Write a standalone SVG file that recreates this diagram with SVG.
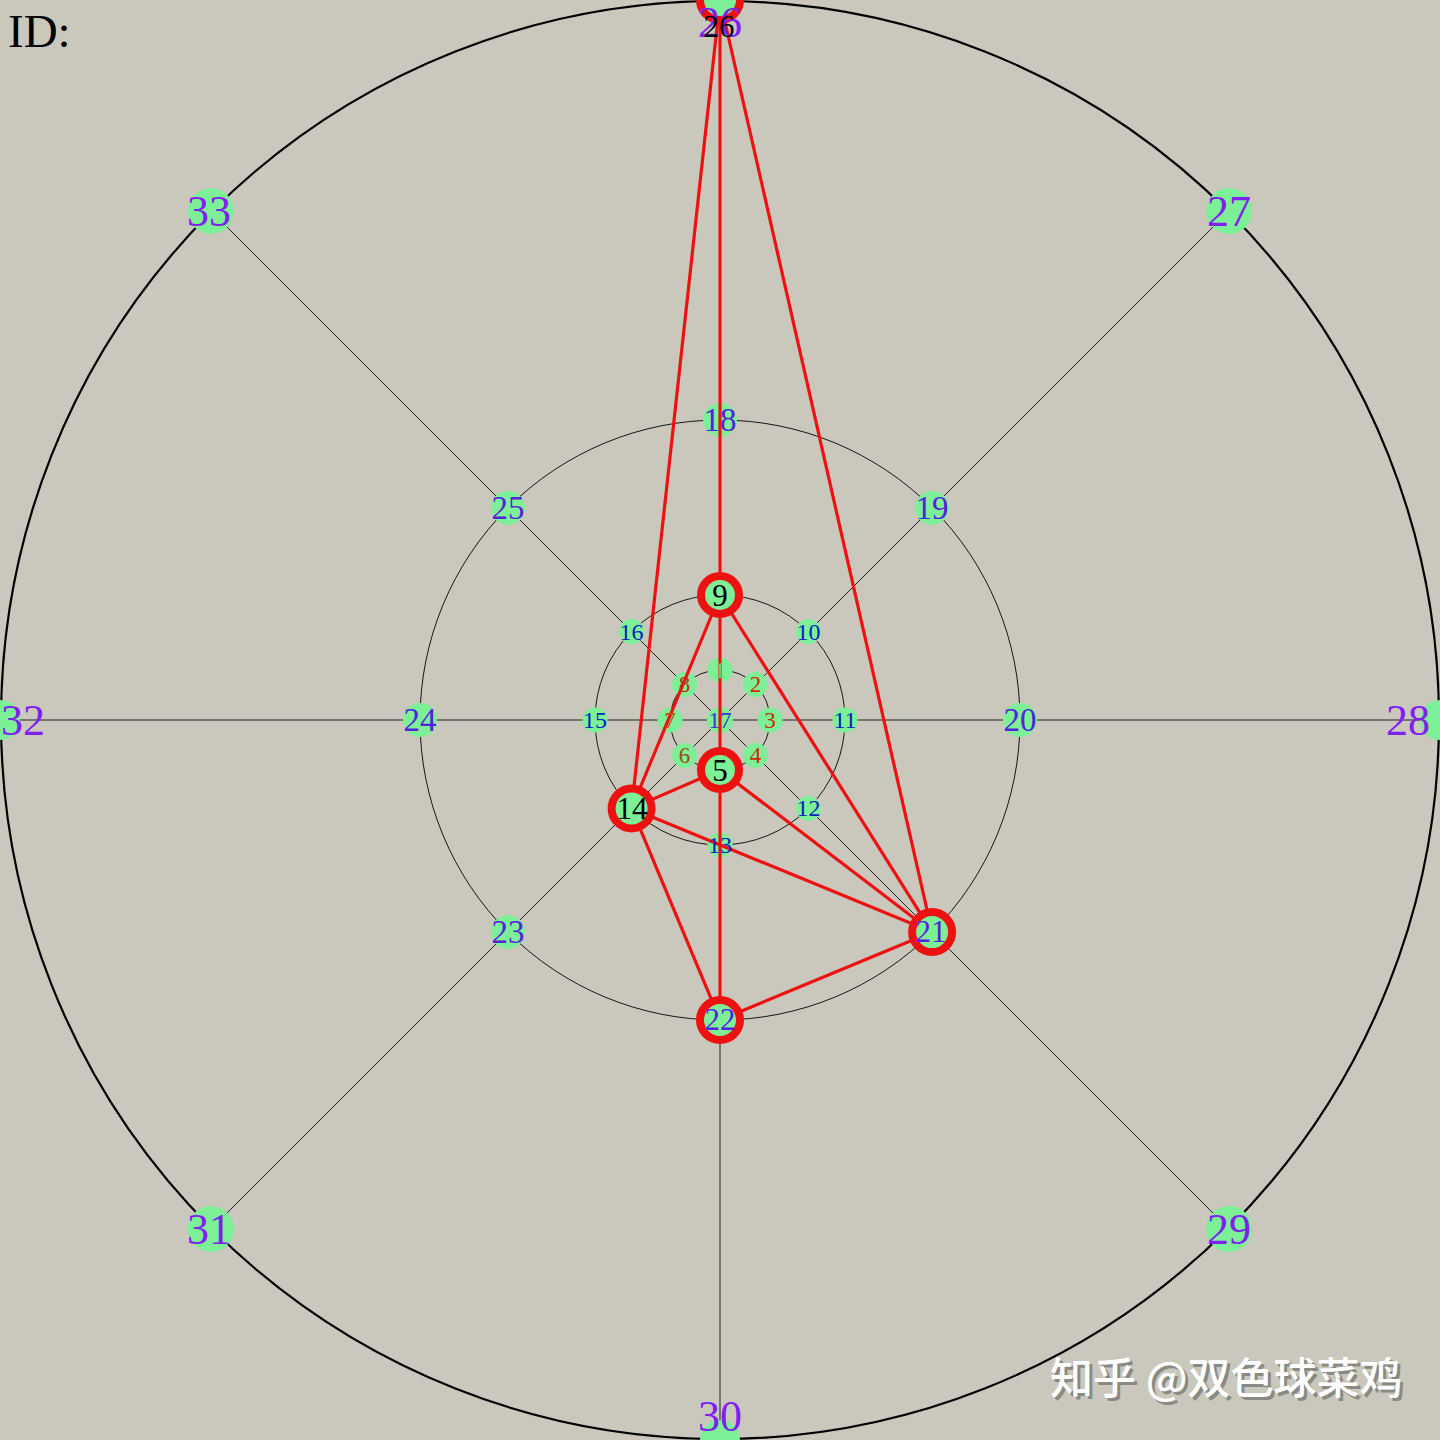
<svg xmlns="http://www.w3.org/2000/svg" width="1440" height="1440" viewBox="0 0 1440 1440">
<style>
.ring{fill:none;stroke:#000;stroke-width:0.9}
.outer{fill:none;stroke:#000;stroke-width:2.2}
.spoke{stroke:#111;stroke-width:0.9}
.edge{stroke:#ee1111;stroke-width:3.2;fill:none}
.n{fill:#7def96}
.sel{fill:#7def96;stroke:#ee1111;stroke-width:8}
text{font-family:"Liberation Serif","Times New Roman",serif;text-anchor:middle}
.l0{font-size:44px;fill:#8020f0}
.l1{font-size:33px;fill:#5522dd}
.l2{font-size:24px;fill:#0a22c0}
.l3{font-size:23px}
.ls{font-size:31px}
.wm{font-family:"Noto Sans CJK SC","Noto Sans",sans-serif;font-size:43px;font-weight:500;text-anchor:start}
</style>
<rect width="1440" height="1440" fill="#cac8bd"/>
<g id="rings">
<circle class="outer" cx="720" cy="720" r="719"/>
<circle class="ring" cx="720" cy="720" r="300"/>
<circle class="ring" cx="720" cy="720" r="125"/>
<circle class="ring" cx="720" cy="720" r="50"/>
</g>
<g id="spokes">
<line class="spoke" x1="720" y1="0" x2="720" y2="1440"/>
<line class="spoke" x1="0" y1="720" x2="1440" y2="720"/>
<line class="spoke" x1="210.9" y1="210.9" x2="1229.1" y2="1229.1"/>
<line class="spoke" x1="1229.1" y1="210.9" x2="210.9" y2="1229.1"/>
</g>
<g id="plain-nodes">
<g id="n1"><circle class="n" cx="720" cy="670" r="12.5"/></g>
<g id="n2"><circle class="n" cx="755.4" cy="684.6" r="12.5"/></g>
<g id="n3"><circle class="n" cx="770" cy="720" r="12.5"/></g>
<g id="n4"><circle class="n" cx="755.4" cy="755.4" r="12.5"/></g>
<g id="n6"><circle class="n" cx="684.6" cy="755.4" r="12.5"/></g>
<g id="n7"><circle class="n" cx="670" cy="720" r="12.5"/></g>
<g id="n8"><circle class="n" cx="684.6" cy="684.6" r="12.5"/></g>
<g id="n17"><circle class="n" cx="720" cy="720" r="13"/></g>
<g id="n10"><circle class="n" cx="808.4" cy="631.6" r="12.5"/></g>
<g id="n11"><circle class="n" cx="845" cy="720" r="12.5"/></g>
<g id="n12"><circle class="n" cx="808.4" cy="808.4" r="12.5"/></g>
<g id="n13"><circle class="n" cx="720" cy="845" r="12.5"/></g>
<g id="n15"><circle class="n" cx="595" cy="720" r="12.5"/></g>
<g id="n16"><circle class="n" cx="631.6" cy="631.6" r="12.5"/></g>
<g id="n18"><circle class="n" cx="720" cy="420" r="17"/></g>
<g id="n19"><circle class="n" cx="932.1" cy="507.9" r="17"/></g>
<g id="n20"><circle class="n" cx="1020" cy="720" r="17"/></g>
<g id="n23"><circle class="n" cx="507.9" cy="932.1" r="17"/></g>
<g id="n24"><circle class="n" cx="420" cy="720" r="17"/></g>
<g id="n25"><circle class="n" cx="507.9" cy="507.9" r="17"/></g>
<g id="n27"><circle class="n" cx="1229.1" cy="210.9" r="23"/></g>
<g id="n28"><circle class="n" cx="1440" cy="720" r="20"/></g>
<g id="n29"><circle class="n" cx="1229.1" cy="1229.1" r="23"/></g>
<g id="n30"><circle class="n" cx="720" cy="1440" r="20"/></g>
<g id="n31"><circle class="n" cx="210.9" cy="1229.1" r="23"/></g>
<g id="n32"><circle class="n" cx="0" cy="720" r="20"/></g>
<g id="n33"><circle class="n" cx="210.9" cy="210.9" r="23"/></g>
</g>
<g id="connectors">
<line class="edge" x1="720" y1="0" x2="720" y2="595"/>
<line class="edge" x1="720" y1="0" x2="631.6" y2="808.4"/>
<line class="edge" x1="720" y1="0" x2="932.1" y2="932.1"/>
<line class="edge" x1="720" y1="595" x2="720" y2="770"/>
<line class="edge" x1="720" y1="595" x2="631.6" y2="808.4"/>
<line class="edge" x1="720" y1="595" x2="932.1" y2="932.1"/>
<line class="edge" x1="720" y1="770" x2="631.6" y2="808.4"/>
<line class="edge" x1="720" y1="770" x2="932.1" y2="932.1"/>
<line class="edge" x1="720" y1="770" x2="720" y2="1020"/>
<line class="edge" x1="631.6" y1="808.4" x2="932.1" y2="932.1"/>
<line class="edge" x1="631.6" y1="808.4" x2="720" y2="1020"/>
<line class="edge" x1="932.1" y1="932.1" x2="720" y2="1020"/>
</g>
<g id="selected-nodes">
<g id="n26"><circle class="sel" cx="720" cy="0" r="20"/></g>
<g id="n9"><circle class="sel" cx="720" cy="595" r="19"/></g>
<g id="n5"><circle class="sel" cx="720" cy="770" r="19"/></g>
<g id="n14"><circle class="sel" cx="631.6" cy="808.4" r="20"/></g>
<g id="n21"><circle class="sel" cx="932.1" cy="932.1" r="20"/></g>
<g id="n22"><circle class="sel" cx="720" cy="1020" r="20"/></g>
</g>
<g id="labels">
<text class="l3" x="720" y="678" fill="#62d674">1</text>
<text class="l3" x="755.4" y="692" fill="#cc3000">2</text>
<text class="l3" x="770" y="728" fill="#cc2a00">3</text>
<text class="l3" x="755.4" y="763" fill="#cc2a00">4</text>
<text class="l3" x="684.6" y="763" fill="#a04a10">6</text>
<text class="l3" x="670" y="728" fill="#c05010">7</text>
<text class="l3" x="684.6" y="692" fill="#c03010">8</text>
<text class="l3" x="720" y="728" fill="#4030d0">17</text>
<text class="l2" x="808.4" y="640">10</text>
<text class="l2" x="845" y="728">11</text>
<text class="l2" x="808.4" y="816">12</text>
<text class="l2" x="720" y="853">13</text>
<text class="l2" x="595" y="728">15</text>
<text class="l2" x="631.6" y="640">16</text>
<text class="l1" x="720" y="431">18</text>
<text class="l1" x="932.1" y="519">19</text>
<text class="l1" x="1020" y="731">20</text>
<text class="l1" x="507.9" y="943">23</text>
<text class="l1" x="420" y="731">24</text>
<text class="l1" x="507.9" y="519">25</text>
<text class="l0" x="720" y="37">26</text>
<text class="l0" x="1229" y="226">27</text>
<text class="l0" x="1408" y="735">28</text>
<text class="l0" x="1229" y="1244">29</text>
<text class="l0" x="720" y="1431">30</text>
<text class="l0" x="209" y="1244">31</text>
<text class="l0" x="23" y="735">32</text>
<text class="l0" x="209" y="226">33</text>
<text class="ls" x="719" y="37" fill="#000">26</text>
<text class="ls" x="720" y="606" fill="#000">9</text>
<text class="ls" x="720" y="781" fill="#000">5</text>
<text class="ls" x="632" y="819" fill="#000">14</text>
<text class="ls" x="931" y="942" fill="#5522dd">21</text>
<text class="ls" x="720" y="1030" fill="#5522dd">22</text>
</g>
<text x="8" y="47" font-size="47" fill="#000" style="text-anchor:start">ID:</text>
<g id="watermark">
<text class="wm" x="1053" y="1397" fill="#8a8a84">知乎 @双色球菜鸡</text>
<text class="wm" x="1050" y="1394" fill="#ffffff">知乎 @双色球菜鸡</text>
</g>
</svg>
